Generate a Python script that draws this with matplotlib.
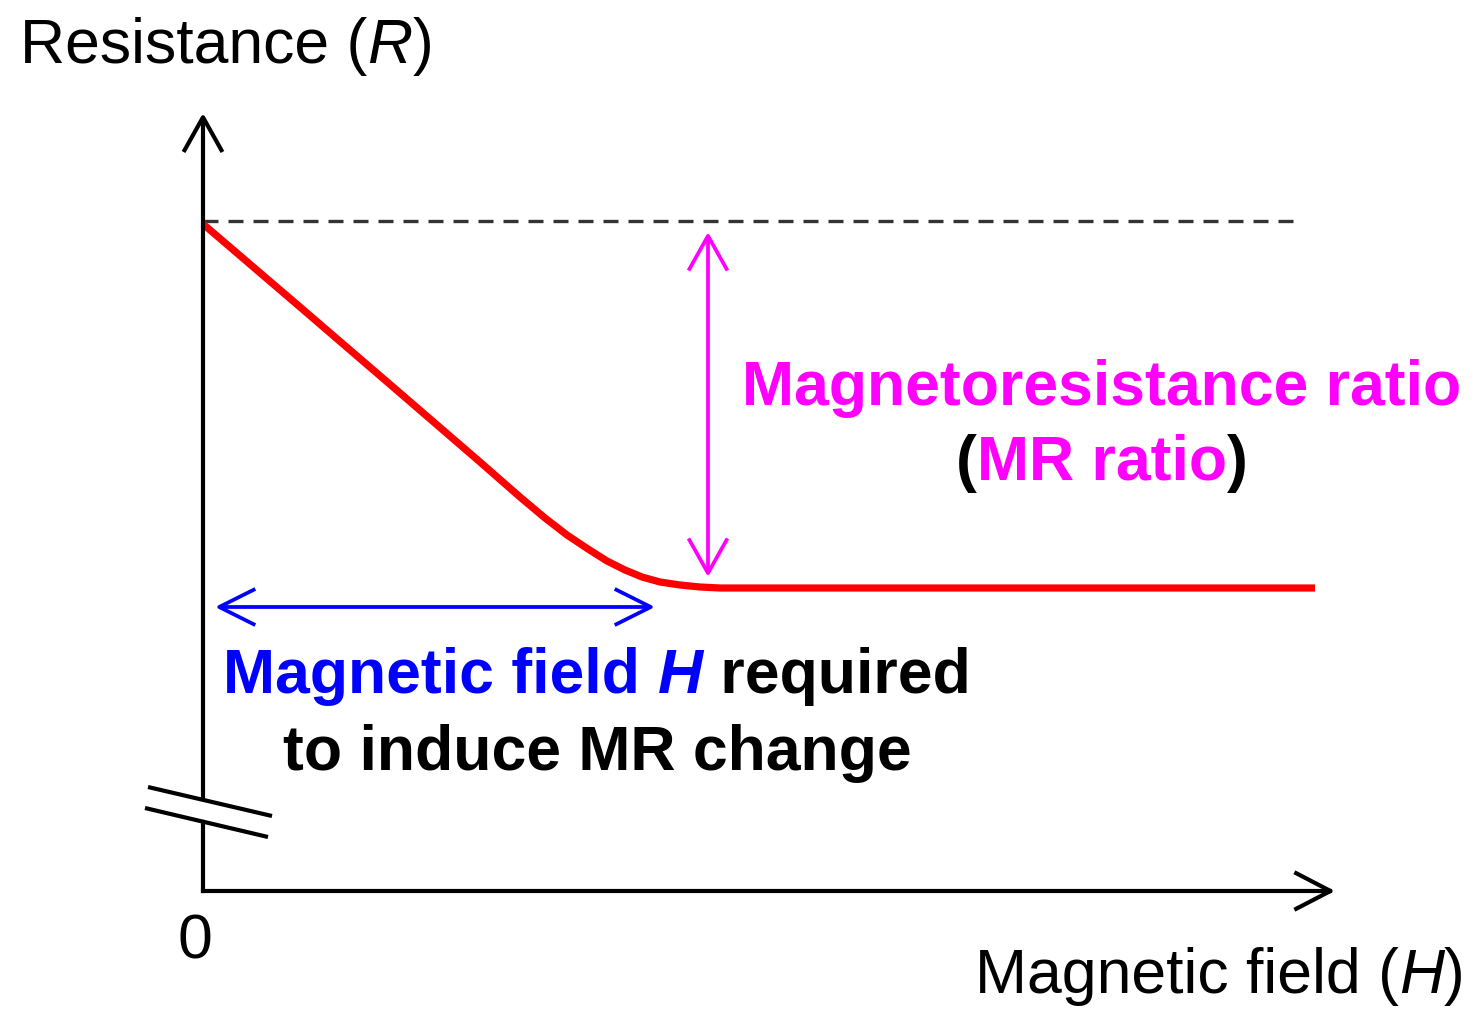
import matplotlib
matplotlib.use("Agg")
import matplotlib.pyplot as plt

# schematic R(H) curve, in picture units (x right, y down)
curve_h = [203, 300, 400, 480, 520, 545, 567, 588, 607, 625, 642, 660, 680, 700, 720, 740, 900, 1100, 1315]
curve_r = [224, 307, 393, 462, 497, 518, 535, 549, 561, 570, 577, 582, 585, 587, 588, 588, 588, 588, 588]

r_max_level = 221            # dashed reference level
dash_span = [203, 1298]
mr_arrow_x = 708
mr_arrow_span = [232, 577]
h_arrow_y = 607
h_arrow_span = [215, 655]

origin = (203, 891)
y_axis_top = 113
x_axis_end = 1335
break_upper = [(148, 787), (272, 816)]
break_lower = [(145, 808), (268, 837)]

FONT = "Liberation Sans"
FS = 45
AX_LW = 3.0

fig = plt.figure(figsize=(14.79, 10.09), dpi=100)
ax = fig.add_axes([0, 0, 1, 1])
ax.set_xlim(0, 1479)
ax.set_ylim(1009, 0)
ax.axis("off")


def arrow(p0, p1, color, lw, style, hl, hw):
    ax.annotate("", xy=p1, xytext=p0,
                arrowprops=dict(arrowstyle=f"{style},head_length={hl},head_width={hw}",
                                color=color, lw=lw, shrinkA=0, shrinkB=0,
                                mutation_scale=1, capstyle="butt"))


# axes with break marks
def y_on(line, x):
    (x0, y0), (x1, y1) = line
    return y0 + (y1 - y0) * (x - x0) / (x1 - x0)

ax.plot([origin[0], origin[0]], [origin[1], y_on(break_lower, origin[0])], color="black", lw=AX_LW,
        solid_capstyle="projecting")
arrow((origin[0], y_on(break_upper, origin[0])), (origin[0], y_axis_top), "black", AX_LW, "->", 25, 14)
ax.plot([origin[0], x_axis_end - 5], [origin[1], origin[1]], color="black", lw=AX_LW, solid_capstyle="projecting")
arrow((x_axis_end - 10, origin[1]), (x_axis_end, origin[1]), "black", AX_LW, "->", 26, 13.5)
for seg in (break_upper, break_lower):
    ax.plot([seg[0][0], seg[1][0]], [seg[0][1], seg[1][1]], color="black", lw=AX_LW, solid_capstyle="butt")

# dashed max-resistance level
ax.plot(dash_span, [r_max_level, r_max_level], color="#333333", lw=2.4, dashes=(4.5, 3))

# R(H) curve
ax.plot(curve_h, curve_r, color="#ff0000", lw=5.2, solid_capstyle="butt", solid_joinstyle="round")

# MR ratio arrow and field arrow
arrow((mr_arrow_x, mr_arrow_span[1]), (mr_arrow_x, mr_arrow_span[0]), "#ff00ff", 2.7, "<->", 25, 14)
arrow((h_arrow_span[0], h_arrow_y), (h_arrow_span[1], h_arrow_y), "#0000ff", 2.7, "<->", 26, 13)

renderer = fig.canvas.get_renderer()


def rich_line(parts, x, y, ha="left"):
    objs = []
    for s, c, w, st in parts:
        t = ax.text(0, y, s, color=c, fontweight=w, fontstyle=st, fontsize=FS,
                    family=FONT, va="baseline", ha="left")
        objs.append(t)
    widths = [t.get_window_extent(renderer).width for t in objs]
    x0 = x - sum(widths) / 2 if ha == "center" else x
    for t, wd in zip(objs, widths):
        t.set_x(x0)
        x0 += wd


rich_line([("Resistance (", "black", "normal", "normal"), ("R", "black", "normal", "italic"),
           (")", "black", "normal", "normal")], 20, 63)
rich_line([("Magnetic field (", "black", "normal", "normal"), ("H", "black", "normal", "italic"),
           (")", "black", "normal", "normal")], 975, 993)
ax.text(195, 942, "0", fontsize=FS, family=FONT, ha="center", va="center")

rich_line([("Magnetoresistance ratio", "#ff00ff", "bold", "normal")], 1102, 405, ha="center")
rich_line([("(", "black", "bold", "normal"), ("MR ratio", "#ff00ff", "bold", "normal"),
           (")", "black", "bold", "normal")], 1102, 480, ha="center")

rich_line([("Magnetic field ", "#0000ff", "bold", "normal"), ("H", "#0000ff", "bold", "italic"),
           (" required", "black", "bold", "normal")], 597, 693, ha="center")
rich_line([("to induce MR change", "black", "bold", "normal")], 597, 770, ha="center")

fig.savefig("out.png", dpi=100)
